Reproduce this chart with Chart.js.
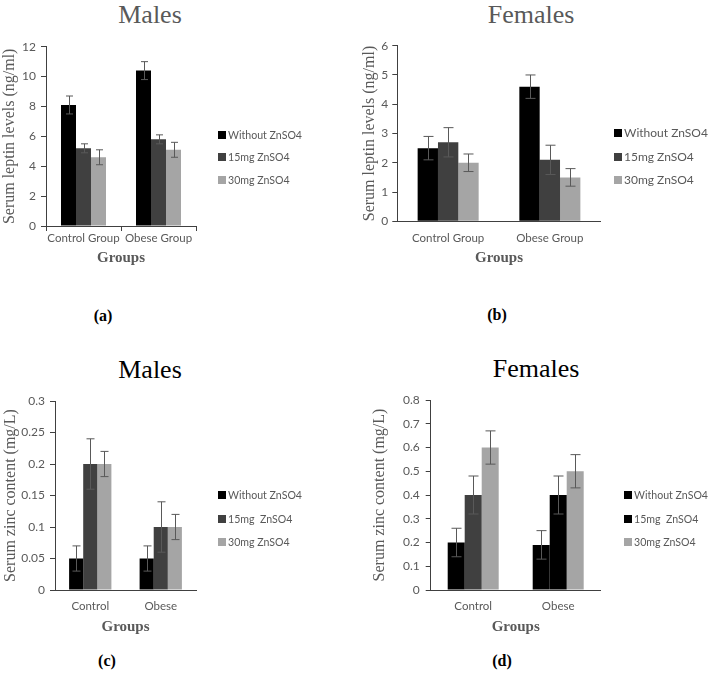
<!DOCTYPE html>
<html>
<head>
<title>Serum leptin and zinc levels</title>
<script src="https://cdn.jsdelivr.net/npm/chart.js"></script>
<style>
  html, body { margin: 0; padding: 0; background: #fff; overflow: hidden; }
  body { width: 709px; height: 681px; position: relative; font-family: "Liberation Serif", "Times New Roman", serif; }
  canvas, .lbl, .legend { position: absolute; }
  .title { font-size: 26px; line-height: 26px; width: 200px; text-align: center; }
  .tag { font-size: 16px; line-height: 16px; font-weight: bold; width: 40px; text-align: center; color: #000; }
  .legend { font-family: Lato, "Open Sans", sans-serif; color: #595959; white-space: pre; }
  .legend .item { position: absolute; left: 0; display: flex; align-items: center; }
  .legend .box { width: 8px; height: 8px; margin-right: 2px; }
</style>
</head>
<body>
<div class="lbl title" style="left:50px; top:2px; color:#595959">Males</div>
<div class="lbl title" style="left:431px; top:2px; color:#595959">Females</div>
<div class="lbl title" style="left:50px; top:357px; color:#000">Males</div>
<div class="lbl title" style="left:436px; top:356px; color:#000">Females</div>
<div class="lbl tag" style="left:83px; top:308px">(a)</div>
<div class="lbl tag" style="left:477px; top:307px">(b)</div>
<div class="lbl tag" style="left:87px; top:653px">(c)</div>
<div class="lbl tag" style="left:482px; top:653px">(d)</div>

<canvas id="chartA" width="354" height="270" style="left:0; top:0"></canvas>
<canvas id="chartB" width="355" height="270" style="left:354px; top:0"></canvas>
<canvas id="chartC" width="354" height="300" style="left:0; top:340px"></canvas>
<canvas id="chartD" width="355" height="300" style="left:354px; top:340px"></canvas>

<div id="legendA" class="legend" style="left:218px; top:0"></div>
<div id="legendB" class="legend" style="left:614px; top:0"></div>
<div id="legendC" class="legend" style="left:218px; top:340px"></div>
<div id="legendD" class="legend" style="left:624px; top:340px"></div>

<script>
    // (a) serum leptin, males
    let leptinGroups = ['Control Group', 'Obese Group'];
    let leptinMaleWithout = [8.1, 10.4];
    let leptinMale15 = [5.2, 5.8];
    let leptinMale30 = [4.6, 5.1];
    let leptinMaleWithoutErr = [0.6, 0.6];
    let leptinMale15Err = [0.3, 0.3];
    let leptinMale30Err = [0.5, 0.5];

    // (b) serum leptin, females
    let leptinFemaleWithout = [2.5, 4.6];
    let leptinFemale15 = [2.7, 2.1];
    let leptinFemale30 = [2.0, 1.5];
    let leptinFemaleWithoutErr = [0.4, 0.4];
    let leptinFemale15Err = [0.5, 0.5];
    let leptinFemale30Err = [0.3, 0.3];

    // (c) serum zinc, males
    let zincGroups = ['Control', 'Obese'];
    let zincMaleWithout = [0.05, 0.05];
    let zincMale15 = [0.2, 0.1];
    let zincMale30 = [0.2, 0.1];
    let zincMaleWithoutErr = [0.02, 0.02];
    let zincMale15Err = [0.04, 0.04];
    let zincMale30Err = [0.02, 0.02];

    // (d) serum zinc, females
    let zincFemaleWithout = [0.2, 0.19];
    let zincFemale15 = [0.4, 0.4];
    let zincFemale30 = [0.6, 0.5];
    let zincFemaleWithoutErr = [0.06, 0.06];
    let zincFemale15Err = [0.08, 0.08];
    let zincFemale30Err = [0.07, 0.07];

    let seriesNames = ['Without ZnSO4', '15mg ZnSO4', '30mg ZnSO4'];
    let seriesNamesZinc = ['Without ZnSO4', '15mg  ZnSO4', '30mg ZnSO4'];

    const BLACK = '#000000', DARK = '#404040', LIGHT = '#a5a5a5', GREY = '#595959';
    const SANS = 'Lato, "Open Sans", sans-serif';
    const SERIF = '"Liberation Serif", "Times New Roman", serif';

    Chart.defaults.font.family = SANS;
    Chart.defaults.font.size = 12;
    Chart.defaults.color = GREY;

    // whiskers drawn from each dataset's errors array through the y scale
    const errorBars = {
        id: 'errorBars',
        afterDatasetsDraw(chart, args, opts) {
            let ctx = chart.ctx;
            let yScale = chart.scales.y;
            chart.data.datasets.forEach((ds, i) => {
                let meta = chart.getDatasetMeta(i);
                meta.data.forEach((bar, j) => {
                    let v = ds.data[j], e = ds.errors[j];
                    let top = yScale.getPixelForValue(v + e);
                    let bot = yScale.getPixelForValue(v - e);
                    let x = Math.round(bar.x) + 0.5;
                    let w = opts.cap / 2;
                    ctx.save();
                    ctx.strokeStyle = GREY;
                    ctx.lineWidth = 1;
                    ctx.beginPath();
                    ctx.moveTo(x, top); ctx.lineTo(x, bot);
                    ctx.moveTo(x - w, top); ctx.lineTo(x + w, top);
                    ctx.moveTo(x - w, bot); ctx.lineTo(x + w, bot);
                    ctx.stroke();
                    ctx.restore();
                });
            });
        }
    };

    // legend as html, built from the same names / colours
    function buildLegend(id, names, colors, fontSize, centers) {
        let el = document.getElementById(id);
        names.forEach((name, i) => {
            let item = document.createElement('div');
            item.className = 'item';
            item.style.fontSize = fontSize + 'px';
            item.style.lineHeight = '16px';
            item.style.top = (centers[i] - 8) + 'px';
            let box = document.createElement('span');
            box.className = 'box';
            box.style.background = colors[i];
            let txt = document.createElement('span');
            txt.textContent = name;
            item.appendChild(box);
            item.appendChild(txt);
            el.appendChild(item);
        });
    }

    function drawPanel(id, p) {
        let canvas = document.getElementById(id);

        let datasets = p.series.map((data, i) => ({
            label: p.names[i],
            data: data,
            errors: p.errors[i],
            backgroundColor: p.colors[i],
            borderWidth: 0,
            categoryPercentage: 0.6,
            barPercentage: 1.0
        }));

        new Chart(canvas, {
            type: 'bar',
            data: { labels: p.labels, datasets: datasets },
            plugins: [errorBars],
            options: {
                responsive: false,
                animation: false,
                devicePixelRatio: 1,
                layout: { padding: { left: 0, top: p.padTop, right: canvas.width - p.plotRight, bottom: p.padBottom } },
                plugins: {
                    tooltip: { enabled: false },
                    legend: { display: false },
                    errorBars: { cap: p.cap }
                },
                scales: {
                    x: {
                        grid: p.xTicks
                            ? { display: true, drawOnChartArea: false, drawTicks: true, tickLength: 5, color: '#404040', offset: true }
                            : { display: false, drawTicks: false },
                        border: { display: true, color: '#404040' },
                        ticks: {
                            color: GREY, padding: p.xLabelPad, font: { size: 11.5 },
                            autoSkip: false, maxRotation: 0, minRotation: 0
                        },
                        title: {
                            display: true,
                            text: 'Groups',
                            color: GREY,
                            padding: { top: 0, bottom: p.groupsPad },
                            font: { family: SERIF, size: 15, weight: 'bold' }
                        },
                        afterFit(s) { s.height = p.xHeight; }
                    },
                    y: {
                        min: 0,
                        max: p.yMax,
                        grid: { display: true, drawOnChartArea: false, drawTicks: true, tickLength: 5, color: '#404040' },
                        border: { display: true, color: '#404040' },
                        ticks: {
                            stepSize: p.yStep,
                            color: GREY,
                            padding: p.yTickPad,
                            font: { size: 12 },
                            callback: v => String(Number(v.toFixed(2)))
                        },
                        title: {
                            display: true,
                            text: p.yTitle,
                            color: GREY,
                            padding: { top: p.yTitlePad, bottom: 0 },
                            font: { family: SERIF, size: 16 }
                        },
                        afterFit(s) { s.width = p.yWidth; }
                    }
                }
            }
        });
    }

    drawPanel('chartA', {
        labels: leptinGroups,
        names: seriesNames,
        series: [leptinMaleWithout, leptinMale15, leptinMale30],
        errors: [leptinMaleWithoutErr, leptinMale15Err, leptinMale30Err],
        colors: [BLACK, DARK, LIGHT],
        yMax: 12, yStep: 2, yTitle: 'Serum leptin levels (ng/ml)',
        padTop: 46.7, padBottom: 2.7, plotRight: 196,
        yWidth: 46, yTitlePad: 0, yTickPad: 5,
        xHeight: 41.3, xTicks: true, xLabelPad: 0, groupsPad: 0.3, cap: 7
    });
    buildLegend('legendA', seriesNames, [BLACK, DARK, LIGHT], 10.6, [135, 157, 180]);

    drawPanel('chartB', {
        labels: leptinGroups,
        names: seriesNames,
        series: [leptinFemaleWithout, leptinFemale15, leptinFemale30],
        errors: [leptinFemaleWithoutErr, leptinFemale15Err, leptinFemale30Err],
        colors: [BLACK, DARK, LIGHT],
        yMax: 6, yStep: 1, yTitle: 'Serum leptin levels (ng/ml)',
        padTop: 45.7, padBottom: 1.7, plotRight: 246.7,
        yWidth: 43.3, yTitlePad: 6.4, yTickPad: 4,
        xHeight: 47, xTicks: false, xLabelPad: 10.5, groupsPad: 1.3, cap: 10
    });
    buildLegend('legendB', seriesNames, [BLACK, DARK, LIGHT], 12, [133, 157, 180]);

    drawPanel('chartC', {
        labels: zincGroups,
        names: seriesNamesZinc,
        series: [zincMaleWithout, zincMale15, zincMale30],
        errors: [zincMaleWithoutErr, zincMale15Err, zincMale30Err],
        colors: [BLACK, DARK, LIGHT],
        yMax: 0.3, yStep: 0.05, yTitle: 'Serum zinc content (mg/L)',
        padTop: 61, padBottom: 3, plotRight: 196,
        yWidth: 55, yTitlePad: 1.4, yTickPad: 5,
        xHeight: 47, xTicks: false, xLabelPad: 9.5, groupsPad: 1, cap: 8
    });
    buildLegend('legendC', seriesNamesZinc, [BLACK, DARK, LIGHT], 10.6, [155, 179, 202]);

    drawPanel('chartD', {
        labels: zincGroups,
        names: seriesNamesZinc,
        series: [zincFemaleWithout, zincFemale15, zincFemale30],
        errors: [zincFemaleWithoutErr, zincFemale15Err, zincFemale30Err],
        colors: [BLACK, [DARK, BLACK], LIGHT],
        yMax: 0.8, yStep: 0.1, yTitle: 'Serum zinc content (mg/L)',
        padTop: 60, padBottom: 2, plotRight: 246.7,
        yWidth: 76.7, yTitlePad: 16.4, yTickPad: 6,
        xHeight: 48, xTicks: false, xLabelPad: 9.5, groupsPad: 2, cap: 10
    });
    buildLegend('legendD', seriesNamesZinc, [BLACK, BLACK, LIGHT], 10.6, [155, 179, 202]);
</script>
</body>
</html>
